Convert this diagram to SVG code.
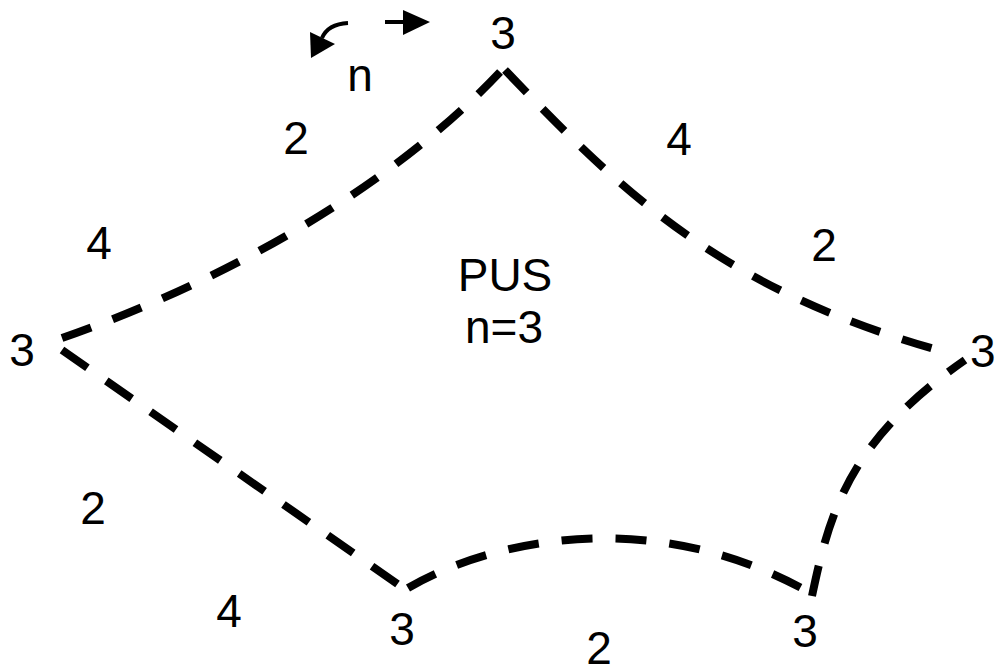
<svg xmlns="http://www.w3.org/2000/svg" width="997" height="668" viewBox="0 0 997 668">
<style>
.edge{fill:none;stroke:#000;stroke-width:8;stroke-dasharray:31 23}
.lbl{font-family:"Liberation Sans",Arial,sans-serif;font-size:46px;fill:#000;text-anchor:middle}
</style>
<rect width="997" height="668" fill="#fff"/>
<g id="connectors">
<path id="e-top-left" class="edge" d="M 62 338 C 200 290, 380 200, 502 70"/>
<path id="e-top-right" class="edge" d="M 505 70 C 620 190, 720 290, 945 352"/>
<path id="e-left-bottom" class="edge" d="M 62 350 L 399 585"/>
<path id="e-bottom" class="edge" d="M 408 588 C 490 540, 650 505, 805 590"/>
<path id="e-right" class="edge" d="M 812 596 C 830 510, 850 440, 965 360"/>
</g>
<g id="direction">
<path d="M 348 23 Q 328 24 322 38" fill="none" stroke="#000" stroke-width="4"/>
<polygon points="310,32 335,44 311,58" fill="#000"/>
<line x1="385" y1="22" x2="405" y2="22" stroke="#000" stroke-width="4"/>
<polygon points="403,10 430,22 403,35" fill="#000"/>
<text class="lbl" x="360" y="91">n</text>
</g>
<g id="center"><text class="lbl" x="505" y="291">PUS</text><text class="lbl" x="504" y="343">n=3</text></g>
<g id="v-top"><text class="lbl" x="503" y="49">3</text></g>
<g id="v-left"><text class="lbl" x="22" y="366">3</text></g>
<g id="v-right"><text class="lbl" x="970" y="367" style="text-anchor:start">3</text></g>
<g id="v-bottom-left"><text class="lbl" x="402" y="645">3</text></g>
<g id="v-bottom-right"><text class="lbl" x="805" y="647">3</text></g>
<g id="labels">
<text class="lbl" x="296" y="154">2</text>
<text class="lbl" x="99" y="259">4</text>
<text class="lbl" x="679" y="155">4</text>
<text class="lbl" x="824" y="261">2</text>
<text class="lbl" x="93" y="524">2</text>
<text class="lbl" x="229" y="627">4</text>
<text class="lbl" x="599" y="664">2</text>
</g>
</svg>
